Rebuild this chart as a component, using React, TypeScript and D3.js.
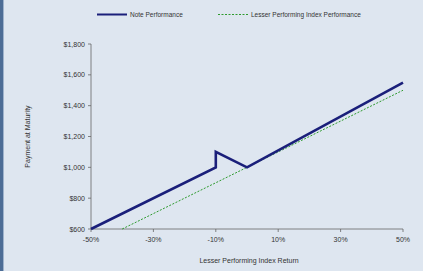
import React from 'react';
import * as d3 from 'd3';

const xTicks = [-50, -30, -10, 10, 30, 50];
const yTicks = [600, 800, 1000, 1200, 1400, 1600, 1800];

// note payoff: index return (%) -> payment
const noteReturn = [-50, -10, -10, 0, 50];
const notePayment = [600, 1000, 1100, 1000, 1550];

// lesser performing index
const indexReturn = [-40, 50];
const indexPayment = [600, 1500];

const W = 423;
const H = 271;
const margin = { left: 91, right: 20, top: 44, bottom: 42 };

export default function App() {
  const x = d3.scaleLinear().domain([-50, 50]).range([margin.left, W - margin.right]);
  const y = d3.scaleLinear().domain([600, 1800]).range([H - margin.bottom, margin.top]);

  const line = d3.line<[number, number]>()
    .x(d => x(d[0]))
    .y(d => y(d[1]));

  const note = noteReturn.map((r, i) => [r, notePayment[i]] as [number, number]);
  const index = indexReturn.map((r, i) => [r, indexPayment[i]] as [number, number]);
  const fmtY = d3.format(',');
  const font = 'Arial, "Liberation Sans", sans-serif';

  return (
    <svg width={W} height={H} style={{ position: 'absolute', left: 0, top: 0 }} fontFamily={font}>
      <rect width={W} height={H} fill="#dee6f0" />
      <rect width={3} height={H} fill="#4d6d96" />
      <rect x={3} width={1} height={H} fill="#9fb3cc" />

      {/* legend */}
      <line x1={97} x2={127} y1={14.5} y2={14.5} stroke="#1a1f7a" strokeWidth={2} />
      <text x={130} y={17} fontSize={6.5} fill="#333">Note Performance</text>
      <line x1={218} x2={248} y1={14.5} y2={14.5} stroke="#2e9a2e" strokeWidth={1} strokeDasharray="2,1.5" />
      <text x={251} y={17} fontSize={6.5} fill="#333">Lesser Performing Index Performance</text>

      {/* y axis */}
      <line x1={x(-50)} x2={x(-50)} y1={y(1800)} y2={y(600)} stroke="#666" strokeWidth={0.8} />
      {yTicks.map(t => (
        <g key={t}>
          <line x1={x(-50) - 3} x2={x(-50)} y1={y(t)} y2={y(t)} stroke="#666" strokeWidth={0.8} />
          <text x={x(-50) - 6} y={y(t) + 2.5} fontSize={7} textAnchor="end" fill="#333">${fmtY(t)}</text>
        </g>
      ))}
      <text transform={`translate(${30},${y(1200)}) rotate(-90)`} fontSize={7} textAnchor="middle" fill="#333">Payment at Maturity</text>

      {/* x axis */}
      <line x1={x(-50)} x2={x(50)} y1={y(600)} y2={y(600)} stroke="#666" strokeWidth={0.8} />
      {xTicks.map(t => (
        <g key={t}>
          <line x1={x(t)} x2={x(t)} y1={y(600)} y2={y(600) + 3} stroke="#666" strokeWidth={0.8} />
          <text x={x(t)} y={y(600) + 13} fontSize={7} textAnchor="middle" fill="#333">{t}%</text>
        </g>
      ))}
      <text x={(x(-50) + x(50)) / 2 + 2} y={H - 8} fontSize={7} textAnchor="middle" fill="#333">Lesser Performing Index Return</text>

      {/* series */}
      <path d={line(index) || ''} fill="none" stroke="#2e9a2e" strokeWidth={1} strokeDasharray="2,1.5" />
      <path d={line(note) || ''} fill="none" stroke="#1a1f7a" strokeWidth={2.6} />
    </svg>
  );
}
